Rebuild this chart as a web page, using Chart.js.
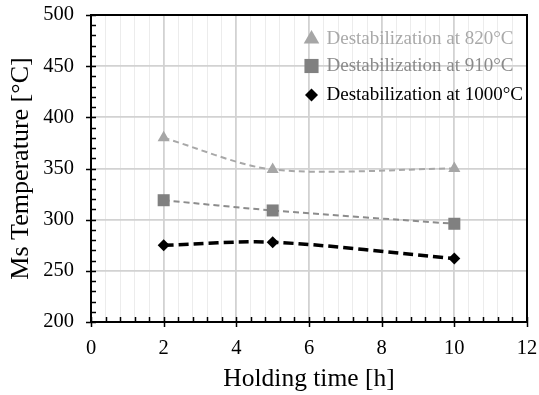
<!DOCTYPE html>
<html>
<head>
<meta charset="utf-8">
<script src="https://cdn.jsdelivr.net/npm/chart.js@4.4.1/dist/chart.umd.min.js"></script>
<style>
  html, body { margin: 0; padding: 0; background: #fff; }
  #wrap { width: 539px; height: 395px; }
</style>
</head>
<body>
<div id="wrap"><canvas id="grafico"></canvas></div>
<script>
// Tempo de manutenção (h)
const horas = [2, 5, 10];
// Temperatura Ms (°C) por temperatura de desestabilização
const ms820 = [380, 349, 350];
const ms910 = [319, 309, 296];
const ms1000 = [275, 278, 262];

const rotulos = ['Destabilization at 820°C', 'Destabilization at 910°C', 'Destabilization at 1000°C'];
const ticksX = [0, 2, 4, 6, 8, 10, 12];
const ticksY = [200, 250, 300, 350, 400, 450, 500];

const FONTE = '"Liberation Serif", "Times New Roman", serif';
const passoMenorX = 0.4;
const passoMenorY = 10;

function ehMaior(lista, v) {
    return lista.some(t => Math.abs(t - v) < 1e-6);
}

function pontos(valores) {
    return horas.map((h, i) => ({ x: h, y: valores[i] }));
}

// Desenha o marcador da legenda
function desenharMarcador(ctx, estilo, cx, cy, r, cor) {
    ctx.fillStyle = cor;
    ctx.beginPath();
    if (estilo === 'triangle') {
        ctx.moveTo(cx, cy - r);
        ctx.lineTo(cx + r * 0.866, cy + r / 2);
        ctx.lineTo(cx - r * 0.866, cy + r / 2);
    } else if (estilo === 'rect') {
        const s = r * Math.SQRT1_2;
        ctx.rect(cx - s, cy - s, 2 * s, 2 * s);
    } else {
        ctx.moveTo(cx - r, cy);
        ctx.lineTo(cx, cy - r);
        ctx.lineTo(cx + r, cy);
        ctx.lineTo(cx, cy + r);
    }
    ctx.closePath();
    ctx.fill();
}

// Moldura, marcas dos eixos e legenda dentro da área do gráfico
const molduraPlugin = {
    id: 'moldura',
    afterDraw(chart) {
        const { ctx, chartArea: a, scales: { x, y } } = chart;
        ctx.save();
        ctx.strokeStyle = '#000';
        ctx.lineWidth = 1.5;
        ctx.beginPath();
        for (let v = x.min; v <= x.max + 1e-6; v += passoMenorX) {
            const px = Math.round(x.getPixelForValue(v)) + 0.5;
            if (ehMaior(ticksX, v)) {
                ctx.moveTo(px, a.bottom - 5);
                ctx.lineTo(px, a.bottom + 5);
            } else {
                ctx.moveTo(px, a.bottom);
                ctx.lineTo(px, a.bottom - 5);
            }
        }
        for (let v = y.min; v <= y.max + 1e-6; v += passoMenorY) {
            const py = Math.round(y.getPixelForValue(v)) + 0.5;
            if (ehMaior(ticksY, v)) {
                ctx.moveTo(a.left - 5, py);
                ctx.lineTo(a.left + 5, py);
            } else {
                ctx.moveTo(a.left, py);
                ctx.lineTo(a.left + 5, py);
            }
        }
        ctx.stroke();
        ctx.lineWidth = 2;
        ctx.strokeRect(a.left, a.top, a.right - a.left, a.bottom - a.top);

        // Legenda
        const tamanhos = [9, 10, 6.5];
        const coresTexto = ['#a9a9a9', '#8a8a8a', '#000000'];
        const linhasY = [24, 51, 80];
        ctx.font = '19px ' + FONTE;
        ctx.textBaseline = 'middle';
        ctx.textAlign = 'left';
        chart.data.datasets.forEach((ds, i) => {
            const cy = a.top + linhasY[i];
            desenharMarcador(ctx, ds.pointStyle, a.right - 215.5, cy, tamanhos[i], ds.pointBackgroundColor);
            ctx.fillStyle = coresTexto[i];
            ctx.fillText(ds.label, a.right - 200.5, cy);
        });
        ctx.restore();
    }
};

function gerarGrafico() {
    const ctx = document.getElementById('grafico').getContext('2d');
    new Chart(ctx, {
        type: 'line',
        data: {
            datasets: [{
                label: rotulos[0],
                data: pontos(ms820),
                borderColor: '#a8a8a8',
                borderWidth: 2,
                borderDash: [6, 4],
                pointStyle: 'triangle',
                pointRadius: 7,
                pointBackgroundColor: '#a6a6a6',
                pointBorderWidth: 0,
                tension: 0.3,
            }, {
                label: rotulos[1],
                data: pontos(ms910),
                borderColor: '#8c8c8c',
                borderWidth: 2,
                borderDash: [6, 4],
                pointStyle: 'rect',
                pointRadius: 8.5,
                pointBackgroundColor: '#808080',
                pointBorderWidth: 0,
                tension: 0.3,
            }, {
                label: rotulos[2],
                data: pontos(ms1000),
                borderColor: '#000000',
                borderWidth: 3.5,
                borderDash: [10, 5],
                pointStyle: 'rectRot',
                pointRadius: 6,
                pointBackgroundColor: '#000000',
                pointBorderWidth: 0,
                tension: 0.3,
            }],
        },
        options: {
            responsive: true,
            maintainAspectRatio: false,
            animation: false,
            layout: {
                padding: { top: 15, right: 12, left: 0, bottom: 0 },
            },
            plugins: {
                legend: { display: false },
                tooltip: { enabled: false },
            },
            scales: {
                x: {
                    type: 'linear',
                    min: 0,
                    max: 12,
                    afterBuildTicks(scale) {
                        const lista = [];
                        for (let v = 0; v <= 12 + 1e-6; v += passoMenorX) {
                            lista.push({ value: Math.round(v * 10) / 10 });
                        }
                        scale.ticks = lista;
                    },
                    afterFit(scale) {
                        scale.height = 73;
                        scale.paddingLeft = 0;
                        scale.paddingRight = 0;
                    },
                    border: { display: false },
                    grid: {
                        drawTicks: false,
                        color: c => {
                            const v = c.tick.value;
                            if (v === 0 || v === 12) return 'rgba(0,0,0,0)';
                            return ehMaior(ticksX, v) ? '#d2d2d2' : '#ececec';
                        },
                        lineWidth: c => ehMaior(ticksX, c.tick.value) ? 1.8 : 1,
                    },
                    ticks: {
                        autoSkip: false,
                        maxRotation: 0,
                        padding: 14,
                        color: '#000',
                        font: { family: FONTE, size: 20.5 },
                        callback: v => ehMaior(ticksX, v) ? String(Math.round(v)) : '',
                    },
                    title: {
                        display: true,
                        text: 'Holding time [h]',
                        color: '#000',
                        font: { family: FONTE, size: 25.5 },
                        padding: { top: 0, bottom: 0 },
                    },
                },
                y: {
                    min: 200,
                    max: 500,
                    afterBuildTicks(scale) {
                        scale.ticks = ticksY.map(v => ({ value: v }));
                    },
                    afterFit(scale) {
                        scale.width = 91;
                        scale.paddingTop = 0;
                        scale.paddingBottom = 0;
                    },
                    border: { display: false },
                    grid: {
                        drawTicks: false,
                        color: c => {
                            const v = c.tick.value;
                            return (v === 200 || v === 500) ? 'rgba(0,0,0,0)' : '#d2d2d2';
                        },
                        lineWidth: 1.8,
                    },
                    ticks: {
                        padding: 17,
                        color: '#000',
                        font: { family: FONTE, size: 20.5 },
                    },
                    title: {
                        display: true,
                        text: 'Ms Temperature [°C]',
                        color: '#000',
                        font: { family: FONTE, size: 26 },
                        padding: { top: 6, bottom: 0 },
                    },
                },
            },
        },
        plugins: [molduraPlugin],
    });
}

window.onload = gerarGrafico;
</script>
</body>
</html>
